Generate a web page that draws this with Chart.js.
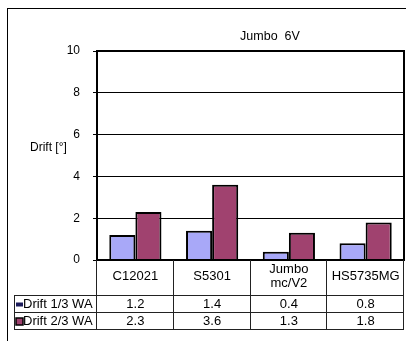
<!DOCTYPE html>
<html>
<head>
<meta charset="utf-8">
<script src="https://cdn.jsdelivr.net/npm/chart.js@4/dist/chart.umd.min.js"></script>
<style>
  html, body { margin: 0; padding: 0; background: #fff; }
  #wrap { width: 406px; height: 341px; position: relative; }
</style>
</head>
<body>
<div id="wrap"><canvas id="Chart" width="406" height="341"></canvas></div>
<script>
var categories = [['C12021'], ['S5301'], ['Jumbo', 'mc/V2'], ['HS5735MG']];
var seriesNames = ['Drift 1/3 WA', 'Drift 2/3 WA'];
var drift13 = [1.2, 1.4, 0.4, 0.8];
var drift23 = [2.3, 3.6, 1.3, 1.8];
var seriesColors = ['#A8A8F8', '#A0426F'];
var chartTitle = 'Jumbo  6V';
var yTitle = 'Drift [°]';

var FAMILY = '"Liberation Sans", Arial, sans-serif';

// frame, plot border, title, y label and the data table below the axis
var decor = {
  id: 'decor',
  beforeDraw: function(c) {
    var ctx = c.ctx;
    ctx.save();
    ctx.fillStyle = '#fff';
    ctx.fillRect(0, 0, c.width, c.height);
    ctx.strokeStyle = '#000';
    ctx.lineWidth = 1;
    ctx.strokeRect(7.5, 8.5, 420, 360);
    ctx.restore();
  },
  afterDraw: function(c) {
    var ctx = c.ctx, a = c.chartArea, x = c.scales.x;
    ctx.save();
    // plot border
    ctx.strokeStyle = '#000';
    ctx.lineWidth = 2;
    ctx.strokeRect(a.left, a.top, a.right - a.left, a.bottom - a.top);

    ctx.fillStyle = '#000';
    ctx.textBaseline = 'middle';
    ctx.textAlign = 'center';
    ctx.font = '12.5px ' + FAMILY;
    ctx.fillText(chartTitle, 270, 37);
    ctx.textAlign = 'left';
    ctx.font = '12px ' + FAMILY;
    ctx.fillText(yTitle, 30, 148);

    // data table
    var catBottom = 295, rowH = 17, legLeft = 14;
    var n = categories.length;
    var cw = (a.right - a.left) / n;
    ctx.strokeStyle = '#222';
    ctx.lineWidth = 1;
    ctx.beginPath();
    for (var i = 0; i <= n; i++) {
      var lx = Math.round(a.left + i * cw) - 0.5;
      ctx.moveTo(lx, a.bottom);
      ctx.lineTo(lx, catBottom + 2 * rowH);
    }
    ctx.moveTo(legLeft + 0.5, catBottom);
    ctx.lineTo(legLeft + 0.5, catBottom + 2 * rowH);
    for (var r = 0; r <= 2; r++) {
      var ly = catBottom + r * rowH + 0.5;
      ctx.moveTo(legLeft, ly);
      ctx.lineTo(a.right, ly);
    }
    ctx.stroke();

    ctx.font = '13px ' + FAMILY;
    ctx.textAlign = 'center';
    categories.forEach(function(lines, i) {
      var cx = x.getPixelForValue(i);
      var cy = 276;
      lines.forEach(function(t, k) {
        ctx.fillText(t, cx, cy + (k - (lines.length - 1) / 2) * 14);
      });
    });

    c.data.datasets.forEach(function(ds, r) {
      var cy = catBottom + r * rowH + rowH / 2 + 1;
      ds.data.forEach(function(v, i) {
        ctx.textAlign = 'center';
        ctx.fillText(v.toFixed(1), x.getPixelForValue(i), cy);
      });
      // legend key
      ctx.fillStyle = r === 0 ? '#1a1a5a' : ds.backgroundColor;
      if (r === 0) {
        ctx.fillRect(16, cy - 2, 7, 4);
      } else {
        ctx.fillRect(16, cy - 3.5, 7, 7);
        ctx.strokeStyle = '#000';
        ctx.lineWidth = 1.5;
        ctx.strokeRect(16, cy - 3.5, 7, 7);
      }
      ctx.fillStyle = '#000';
      ctx.textAlign = 'left';
      ctx.fillText(ds.label, 23, cy);
    });
    ctx.restore();
  }
};

var chart = new Chart('Chart', {
  type: 'bar',
  data: {
    labels: categories,
    datasets: [{
      label: seriesNames[0],
      data: drift13,
      backgroundColor: seriesColors[0],
      borderColor: '#000',
      borderWidth: 2
    }, {
      label: seriesNames[1],
      data: drift23,
      backgroundColor: seriesColors[1],
      borderColor: '#000',
      borderWidth: 2
    }]
  },
  plugins: [decor],
  options: {
    responsive: false,
    animation: false,
    layout: { padding: { left: 0, right: 2, top: 51, bottom: 81 } },
    categoryPercentage: 0.68,
    barPercentage: 1.0,
    scales: {
      x: { display: false },
      y: {
        min: 0,
        max: 10,
        afterFit: function(s) { s.width = 97; },
        ticks: {
          stepSize: 2,
          padding: 13,
          color: '#000',
          font: { family: FAMILY, size: 12 }
        },
        grid: { color: '#000', lineWidth: 1, tickLength: 4 },
        border: { display: false }
      }
    },
    plugins: {
      legend: { display: false },
      title: { display: false },
      tooltip: { enabled: false }
    }
  }
});
</script>
</body>
</html>
